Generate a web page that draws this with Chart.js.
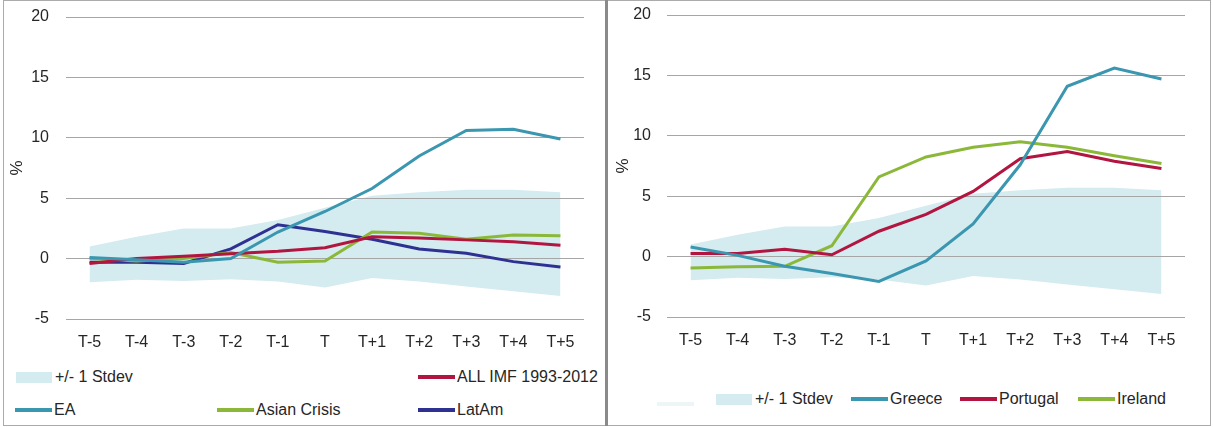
<!DOCTYPE html>
<html><head><meta charset="utf-8">
<script src="https://cdn.jsdelivr.net/npm/chart.js@4/dist/chart.umd.min.js"></script>
<style>
html,body{margin:0;padding:0;background:#fff;}
body{width:1213px;height:427px;position:relative;overflow:hidden;font-family:"Liberation Sans",Arial,sans-serif;}
.panel{position:absolute;border:1px solid #ababab;box-sizing:border-box;}
.cv{position:absolute;}
.lg{position:absolute;font-size:16px;color:#262626;white-space:nowrap;line-height:20px;}
.sw{position:absolute;}
</style></head><body>
<div class="panel" style="left:3px;top:0;width:603px;height:426px;"></div>
<div class="panel" style="left:607px;top:0;width:604px;height:426px;"></div>
<div style="position:absolute;left:605px;top:0;width:3px;height:426px;background:#8a8a8a;"></div>
<div class="cv" style="left:0;top:0;width:606px;height:362px;"><canvas id="c1"></canvas></div>
<div class="cv" style="left:607px;top:0;width:606px;height:360px;"><canvas id="c2"></canvas></div>
<div id="legends"></div>
<script>
const categories = ['T-5','T-4','T-3','T-2','T-1','T','T+1','T+2','T+3','T+4','T+5'];
const stdevUpper = [1.0, 1.8, 2.5, 2.5, 3.2, 4.2, 5.2, 5.5, 5.7, 5.7, 5.5];
const stdevLower = [-1.95, -1.75, -1.85, -1.7, -1.9, -2.4, -1.6, -1.9, -2.3, -2.7, -3.1];
const eaValues = [0.1, -0.1, -0.3, 0.0, 2.2, 3.9, 5.8, 8.5, 10.6, 10.7, 9.9];
const allImfValues = [-0.4, 0.0, 0.2, 0.4, 0.6, 0.9, 1.8, 1.7, 1.55, 1.4, 1.1];
const asianValues = [0.0, -0.2, 0.0, 0.5, -0.3, -0.2, 2.2, 2.1, 1.6, 1.95, 1.9];
const latAmValues = [-0.3, -0.3, -0.4, 0.8, 2.8, 2.25, 1.6, 0.8, 0.45, -0.25, -0.7];
const greeceValues = [0.8, 0.1, -0.8, -1.4, -2.05, -0.35, 2.7, 7.6, 14.1, 15.6, 14.7];
const portugalValues = [0.25, 0.25, 0.6, 0.15, 2.1, 3.5, 5.4, 8.1, 8.7, 7.9, 7.3];
const irelandValues = [-0.95, -0.85, -0.8, 0.9, 6.6, 8.25, 9.05, 9.5, 9.05, 8.35, 7.7];
const yMin = -5, yMax = 20, yStep = 5;

const C_TEAL = '#3b96b0', C_RED = '#b2153f', C_GREEN = '#8cb83a', C_NAVY = '#2e3192', C_BAND = '#d4ebf0';
const FONT = '"Liberation Sans", Arial, sans-serif';

function bandSets(){
  return [
    {label:'+/- 1 Stdev', data:stdevUpper, fill:'+1', backgroundColor:C_BAND, borderWidth:0, pointRadius:0},
    {label:'', data:stdevLower, fill:false, borderWidth:0, pointRadius:0, backgroundColor:'rgba(0,0,0,0)'}
  ];
}
function lineSet(label, data, color){
  return {label, data, borderColor:color, backgroundColor:color, borderWidth:3, pointRadius:0, tension:0, fill:false};
}
function makeChart(id, datasets, o){
  return new Chart(document.getElementById(id), {
    type:'line',
    data:{labels:categories, datasets},
    options:{
      responsive:true, maintainAspectRatio:false, animation:false,
      layout:{padding:{top:o.pt, right:o.pr, bottom:o.pb, left:0}},
      plugins:{legend:{display:false}, tooltip:{enabled:false}, filler:{drawTime:'beforeDraw'}},
      scales:{
        x:{offset:true, grid:{display:false, drawTicks:false}, border:{display:false},
           ticks:{padding:14, color:'#262626', font:{family:FONT, size:16}},
           afterFit:(s)=>{s.height=40;}},
        y:{min:yMin, max:yMax, grid:{color:'#a6a6a6', lineWidth:1, drawTicks:false}, border:{display:false},
           ticks:{stepSize:yStep, padding:o.tp, color:'#262626', font:{family:FONT, size:16}},
           title:{display:true, text:'%', color:'#262626', font:{family:FONT, size:17}, padding:{top:o.titlePad, bottom:0}},
           afterFit:(s)=>{s.width=o.yw; s.paddingTop=0; s.paddingBottom=0;}}
      }
    }
  });
}
makeChart('c1', [...bandSets(), lineSet('EA', eaValues, C_TEAL), lineSet('ALL IMF 1993-2012', allImfValues, C_RED),
  lineSet('Asian Crisis', asianValues, C_GREEN), lineSet('LatAm', latAmValues, C_NAVY)],
  {pt:17, pr:22, pb:3, yw:66, tp:17, titlePad:7});
makeChart('c2', [...bandSets(), lineSet('Greece', greeceValues, C_TEAL), lineSet('Portugal', portugalValues, C_RED),
  lineSet('Ireland', irelandValues, C_GREEN)],
  {pt:15, pr:28, pb:3, yw:60, tp:16, titlePad:6});

// legends
const legendItems = [
  {text:'+/- 1 Stdev', type:'box', color:C_BAND, x:16, y:377},
  {text:'ALL IMF 1993-2012', type:'line', color:C_RED, x:418, y:377},
  {text:'EA', type:'line', color:C_TEAL, x:15, y:410},
  {text:'Asian Crisis', type:'line', color:C_GREEN, x:217, y:410},
  {text:'LatAm', type:'line', color:C_NAVY, x:418, y:410},
  {text:'', type:'line', color:'#edf5f7', x:657, y:404},
  {text:'+/- 1 Stdev', type:'box', color:C_BAND, x:716, y:399},
  {text:'Greece', type:'line', color:C_TEAL, x:851, y:399},
  {text:'Portugal', type:'line', color:C_RED, x:960, y:399},
  {text:'Ireland', type:'line', color:C_GREEN, x:1078, y:399}
];
const lg = document.getElementById('legends');
legendItems.forEach(it=>{
  const sw = document.createElement('div');
  sw.className='sw';
  if(it.type==='box'){
    sw.style.cssText=`left:${it.x}px;top:${it.y-5}px;width:36px;height:11px;background:${it.color};`;
  } else {
    sw.style.cssText=`left:${it.x}px;top:${it.y-2}px;width:37px;height:3.5px;background:${it.color};`;
  }
  lg.appendChild(sw);
  if(it.text){
    const t = document.createElement('div');
    t.className='lg';
    t.textContent=it.text;
    t.style.left=(it.x+39)+'px';
    t.style.top=(it.y-10)+'px';
    lg.appendChild(t);
  }
});
</script>
</body></html>
